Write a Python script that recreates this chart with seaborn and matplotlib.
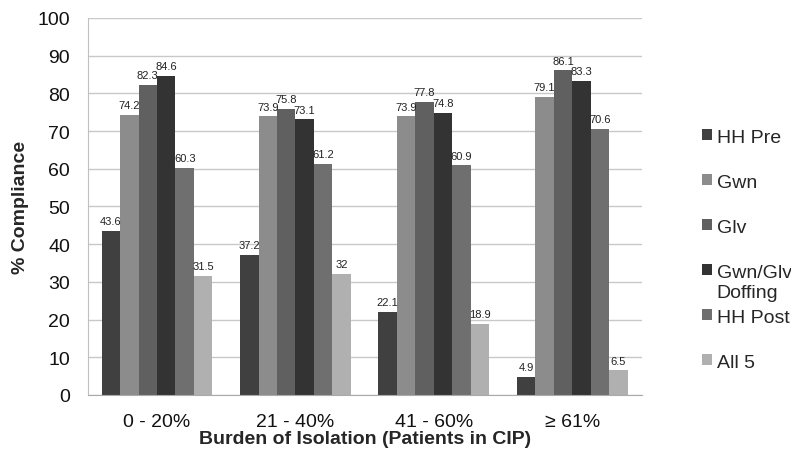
import matplotlib
matplotlib.use('Agg')
import matplotlib.pyplot as plt
from matplotlib.patches import Patch
import seaborn as sns
import pandas as pd

# Chart data
categories = ['0 - 20%', '21 - 40%', '41 - 60%', '\u2265 61%']
series = ['HH Pre', 'Gwn', 'Glv', 'Gwn/Glv Doffing', 'HH Post', 'All 5']
hh_pre = [43.6, 37.2, 22.1, 4.9]
gwn = [74.2, 73.9, 73.9, 79.1]
glv = [82.3, 75.8, 77.8, 86.1]
doffing = [84.6, 73.1, 74.8, 83.3]
hh_post = [60.3, 61.2, 60.9, 70.6]
all5 = [31.5, 32, 18.9, 6.5]
yticks = [0, 10, 20, 30, 40, 50, 60, 70, 80, 90, 100]

colors = ['#404040', '#8c8c8c', '#606060', '#333333', '#6f6f6f', '#b0b0b0']

values = [hh_pre, gwn, glv, doffing, hh_post, all5]
rows = []
for s, vals in zip(series, values):
    for c, v in zip(categories, vals):
        rows.append({'burden': c, 'measure': s, 'pct': v})
df = pd.DataFrame(rows)

sns.set_style('white')
plt.rcParams['font.family'] = ['Liberation Sans', 'DejaVu Sans']

fig = plt.figure(figsize=(7.91, 4.56), dpi=100)
ax = fig.add_axes([0.111, 0.1316, 0.7, 0.8268])

sns.barplot(data=df, x='burden', y='pct', hue='measure', palette=colors,
            hue_order=series, order=categories, width=0.8, saturation=1,
            linewidth=0, legend=False, ax=ax, zorder=2)

for cont in ax.containers:
    labels = [f'{v:g}' for v in cont.datavalues]
    ax.bar_label(cont, labels=labels, padding=3.5, fontsize=8, color='#222222')

ax.set_ylim(0, 100)
ax.set_yticks(yticks)
ax.yaxis.grid(True, color='#c8c8c8', linewidth=1, zorder=0)
ax.set_axisbelow(True)
for side in ['top', 'right']:
    ax.spines[side].set_visible(False)
ax.spines['bottom'].set_color('#aaaaaa')
ax.spines['left'].set_color('#c0c0c0')
ax.tick_params(axis='both', labelsize=14, colors='#111111')
ax.tick_params(axis='x', length=0, pad=13)
ax.tick_params(axis='y', length=4.3, color='#c0c0c0', width=1, pad=8.5)

ax.set_xlabel('Burden of Isolation (Patients in CIP)', fontsize=14,
              fontweight='bold', labelpad=0)
ax.set_ylabel('% Compliance', fontsize=14, fontweight='bold', labelpad=6)

# legend: the doffing entry wraps onto a second line, as in the source chart
short = [s.replace(' Doffing', '') for s in series]
handles = [Patch(facecolor=c, edgecolor='none') for c in colors]
leg = fig.legend(handles, short, loc='upper left', bbox_to_anchor=(0.878, 0.733),
                 frameon=False, fontsize=14, handlelength=0.5, handleheight=0.5,
                 handletextpad=0.25, labelspacing=1.44, borderaxespad=0)
fig.canvas.draw()
wrap = leg.get_texts()[3]
bb = wrap.get_window_extent().transformed(fig.transFigure.inverted())
fig.text(bb.x0, bb.y0 - 0.008, 'Doffing', fontsize=14, color=wrap.get_color(),
         ha='left', va='top')

fig.savefig('out.png', dpi=100)
